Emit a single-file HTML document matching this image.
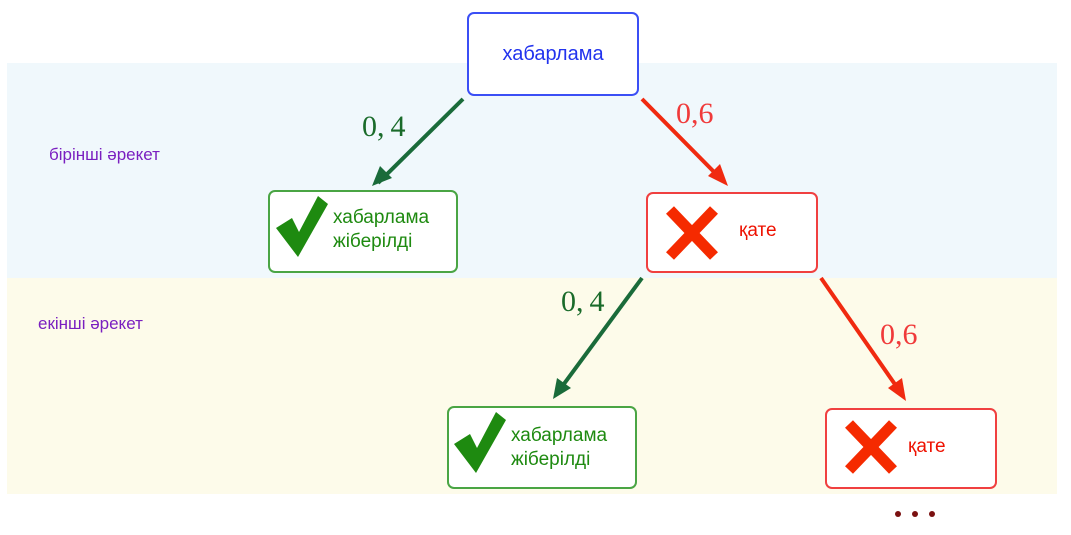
<!DOCTYPE html>
<html><head><meta charset="utf-8"><style>
body{margin:0;width:1071px;height:535px;background:#fff;position:relative;overflow:hidden;font-family:"Liberation Sans",sans-serif}
.band{position:absolute;left:7px;width:1050px}
.box{position:absolute;background:#fff;border-radius:7px;box-sizing:border-box}
.lbl{position:absolute;font-size:17px;color:#7a1fc0}
.num{position:absolute;font-family:"Liberation Serif",serif;font-size:30px}
</style></head><body>
<div class="band" style="top:63px;height:215px;background:#f0f8fc"></div>
<div class="band" style="top:278px;height:216px;background:#fdfbea"></div>
<div class="lbl" style="left:49px;top:145px">бірінші әрекет</div>
<div class="lbl" style="left:38px;top:314px">екінші әрекет</div>

<div class="box" style="left:467px;top:12px;width:172px;height:84px;border:2px solid #3b4ff5;color:#2233ee;font-size:20px;text-align:center;line-height:80px">хабарлама</div>

<div class="box" style="left:268px;top:190px;width:190px;height:83px;border:2px solid #4aa544"></div>
<div style="position:absolute;left:333px;top:206px;color:#1e8a10;font-size:19px;line-height:24px">хабарлама<br>жіберілді</div>
<div class="box" style="left:646px;top:192px;width:172px;height:81px;border:2px solid #f04040"></div>
<div style="position:absolute;left:739px;top:220px;color:#ee1100;font-size:19px">қате</div>

<div class="box" style="left:447px;top:406px;width:190px;height:83px;border:2px solid #4aa544"></div>
<div style="position:absolute;left:511px;top:424px;color:#1e8a10;font-size:19px;line-height:24px">хабарлама<br>жіберілді</div>
<div class="box" style="left:825px;top:408px;width:172px;height:81px;border:2px solid #f04040"></div>
<div style="position:absolute;left:908px;top:436px;color:#ee1100;font-size:19px">қате</div>

<div class="num" style="left:362px;top:110px;color:#1a6b2a">0,&#8201;4</div>
<div class="num" style="left:676px;top:97px;color:#f03a3a">0,6</div>
<div class="num" style="left:561px;top:285px;color:#1a6b2a">0,&#8201;4</div>
<div class="num" style="left:880px;top:318px;color:#f03a3a">0,6</div>

<svg width="1071" height="535" style="position:absolute;left:0;top:0">
<g stroke-width="4" fill="none">
<line x1="463" y1="99" x2="378" y2="183" stroke="#1a6b3a"/>
<path d="M372,186 L380,166 L392,178 Z" fill="#1a6b3a" stroke="none"/>
<line x1="642" y1="99" x2="722" y2="180" stroke="#f02a10"/>
<path d="M728,186 L708,176 L720,164 Z" fill="#f02a10" stroke="none"/>
<line x1="642" y1="278" x2="558" y2="392" stroke="#1a6b3a"/>
<path d="M553,399 L557,378 L571,388 Z" fill="#1a6b3a" stroke="none"/>
<line x1="821" y1="278" x2="901" y2="393" stroke="#f02a10"/>
<path d="M906,401 L888,388 L902,378 Z" fill="#f02a10" stroke="none"/>
</g>
<path d="M276,228 L292,218 L299,232 L318,196 L328,204 L298,257 Z" fill="#1e8a10"/>
<path d="M454,444 L470,434 L477,448 L496,412 L506,420 L476,473 Z" fill="#1e8a10"/>
<g stroke="#f52a00" stroke-width="11">
<line x1="670" y1="210" x2="714" y2="256"/><line x1="714" y1="210" x2="670" y2="256"/>
<line x1="849" y1="424" x2="893" y2="470"/><line x1="893" y1="424" x2="849" y2="470"/>
</g>
<circle cx="898" cy="514" r="3" fill="#7a1010"/><circle cx="915" cy="514" r="3" fill="#7a1010"/><circle cx="932" cy="514" r="3" fill="#7a1010"/>
</svg>
</body></html>
